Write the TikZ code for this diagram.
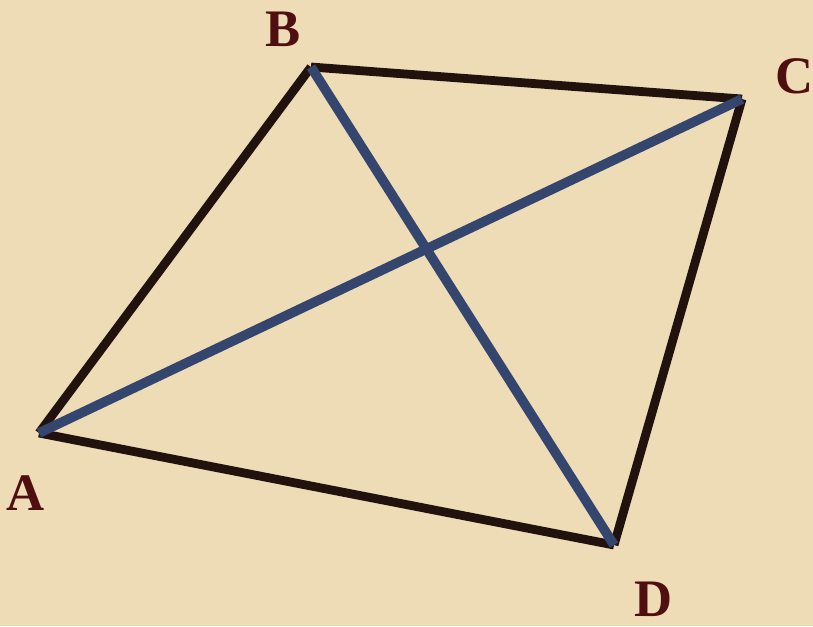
\documentclass[tikz,border=0pt]{standalone}
\usepackage{fontspec}
\setmainfont{Liberation Serif}
\definecolor{bg}{HTML}{EDDCB6}
\definecolor{edgec}{HTML}{22120D}
\definecolor{diagc}{HTML}{34466E}
\definecolor{labc}{HTML}{4F0F10}
\begin{document}
\begin{tikzpicture}[x=0.02cm,y=-0.02cm,
  edge/.style={draw=edgec,line width=5pt,line cap=butt},
  diag/.style={draw=diagc,line width=5.5pt,line cap=butt},
  lab/.style={text=labc,font=\fontsize{30}{30}\selectfont\bfseries,inner sep=0pt,text depth=0pt}]
\fill[bg] (0,0) rectangle (813,626);
\useasboundingbox (0,0) rectangle (813,626);
\coordinate (A) at (39,433);
\coordinate (B) at (311,67);
\coordinate (C) at (742,99);
\coordinate (D) at (614,545);
\draw[edge] (A) -- (B);
\draw[edge] (B) -- (C);
\draw[edge] (C) -- (D);
\draw[edge] (D) -- (A);
\draw[diag] (A) -- (C);
\draw[diag] (B) -- (D);
\node[lab] (lA) at (26,493) {A};
\node[lab] (lB) at (283,29) {B};
\node[lab] (lC) at (795,76) {C};
\node[lab] (lD) at (654,599) {D};
\end{tikzpicture}
\end{document}
